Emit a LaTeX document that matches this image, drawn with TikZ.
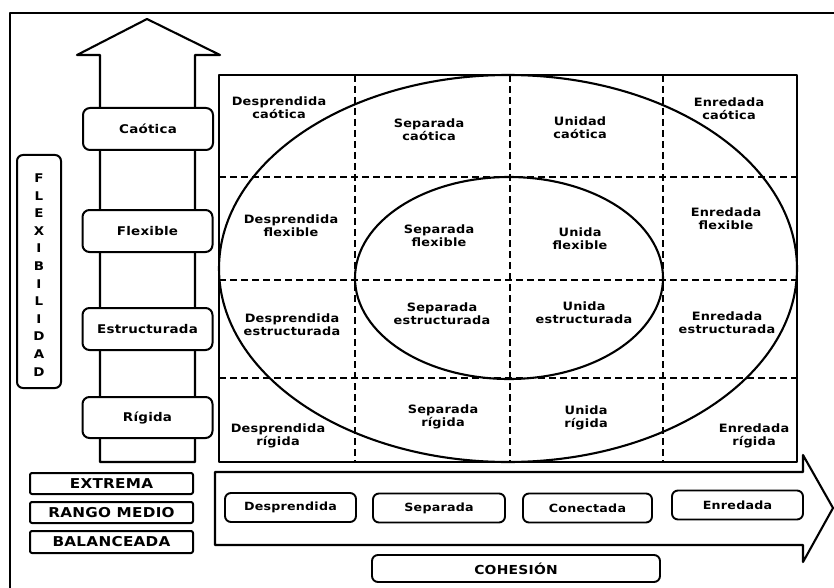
\documentclass[tikz,border=0pt]{standalone}
\usepackage{fontspec}
\newfontfamily\lab{DejaVu Sans Bold}[FakeStretch=1.12,LetterSpace=2]
\begin{document}
\begin{tikzpicture}[x=1pt,y=-1pt,
  line join=round,
  cell/.style={align=center,inner sep=0pt,font=\lab\fontsize{11.5}{13}\selectfont},
  levelbox/.style={draw,line width=2pt,fill=white,rounded corners=7pt,
     minimum width=130pt,minimum height=42pt,inner sep=0pt,font=\lab\fontsize{12}{14}\selectfont},
  rangebox/.style={draw,line width=2pt,fill=white,rounded corners=2pt,
     minimum width=163pt,minimum height=21pt,inner sep=0pt,font=\lab\fontsize{13.6}{15}\selectfont},
  cohbox/.style={draw,line width=1.9pt,fill=white,rounded corners=6pt,
     minimum width=131pt,minimum height=29pt,inner sep=0pt,font=\lab\fontsize{11.3}{13}\selectfont},
  gridline/.style={line width=1.8pt,dash pattern=on 7pt off 4pt},
  solid line/.style={line width=2.1pt}
]
\useasboundingbox (0,0) rectangle (834,588);
% frame
\draw[line width=2.6pt] (10,588) -- (10,13) -- (834,13);
% vertical arrow
\draw[solid line] (100,462) -- (100,55) -- (77,55) -- (147,19) -- (220,55) -- (195,55) -- (195,462) -- cycle;
% FLEXIBILIDAD
\node[draw,line width=2pt,rounded corners=6pt,minimum width=44pt,minimum height=233pt,inner sep=0pt] (flexbox) at (39,271.5) {};
\node[inner sep=0pt,align=center,font=\lab\fontsize{12}{17.6}\selectfont] (flex) at (39,275)
  {F\\L\\E\\X\\I\\B\\I\\L\\I\\D\\A\\D};
% level boxes
\node[levelbox] (caotica) at (148,129) {Caótica};
\node[levelbox] (flexible) at (147.5,231) {Flexible};
\node[levelbox] (estructurada) at (147.5,329) {Estructurada};
\node[levelbox,minimum height=41pt] (rigida) at (147.5,417.5) {Rígida};
% grid
\draw[solid line] (219,75) rectangle (797,462);
\foreach \xx in {355,510,663} \draw[gridline] (\xx,75) -- (\xx,462);
\foreach \yy in {177,280,378} \draw[gridline] (219,\yy) -- (797,\yy);
% ellipses
\draw[solid line] (508,268.5) ellipse [x radius=289pt, y radius=193.5pt];
\draw[solid line] (509,278) ellipse [x radius=154pt, y radius=101pt];
% cell texts
\node[cell] (c11) at (279,108) {Desprendida\\caótica};
\node[cell] (c12) at (429,130) {Separada\\caótica};
\node[cell] (c13) at (580,128) {Unidad\\caótica};
\node[cell] (c14) at (729,109) {Enredada\\caótica};
\node[cell] (c21) at (291,226) {Desprendida\\flexible};
\node[cell] (c22) at (439,236) {Separada\\flexible};
\node[cell] (c23) at (580,239) {Unida\\flexible};
\node[cell] (c24) at (726,219) {Enredada\\flexible};
\node[cell] (c31) at (292,325) {Desprendida\\estructurada};
\node[cell] (c32) at (442,314) {Separada\\estructurada};
\node[cell] (c33) at (584,313) {Unida\\estructurada};
\node[cell] (c34) at (727,323) {Enredada\\estructurada};
\node[cell] (c41) at (278,436) {Desprendida\\rígida};
\node[cell] (c42) at (443,417) {Separada\\rígida};
\node[cell] (c43) at (586,418) {Unida\\rígida};
\node[cell] (c44) at (754,436) {Enredada\\rígida};
% range boxes
\node[rangebox] (extrema) at (111.5,483.5) {EXTREMA};
\node[rangebox] (medio) at (111.5,512.5) {RANGO MEDIO};
\node[rangebox,minimum height=22pt] (balanceada) at (111.5,542) {BALANCEADA};
% horizontal arrow
\draw[solid line] (215,472) -- (803,472) -- (803,455) -- (833,508) -- (803,562) -- (803,545) -- (215,545) -- cycle;
\node[cohbox] (desp) at (290.5,507.5) {Desprendida};
\node[cohbox,minimum width=132pt] (sep) at (439,508) {Separada};
\node[cohbox,minimum width=129pt] (con) at (587.5,508) {Conectada};
\node[cohbox] (enr) at (737.5,505) {Enredada};
\node[cohbox,minimum width=288pt,minimum height=27pt,font=\lab\fontsize{12.4}{14}\selectfont] (cohesion) at (516,568.5) {COHESIÓN};
\end{tikzpicture}
\end{document}
